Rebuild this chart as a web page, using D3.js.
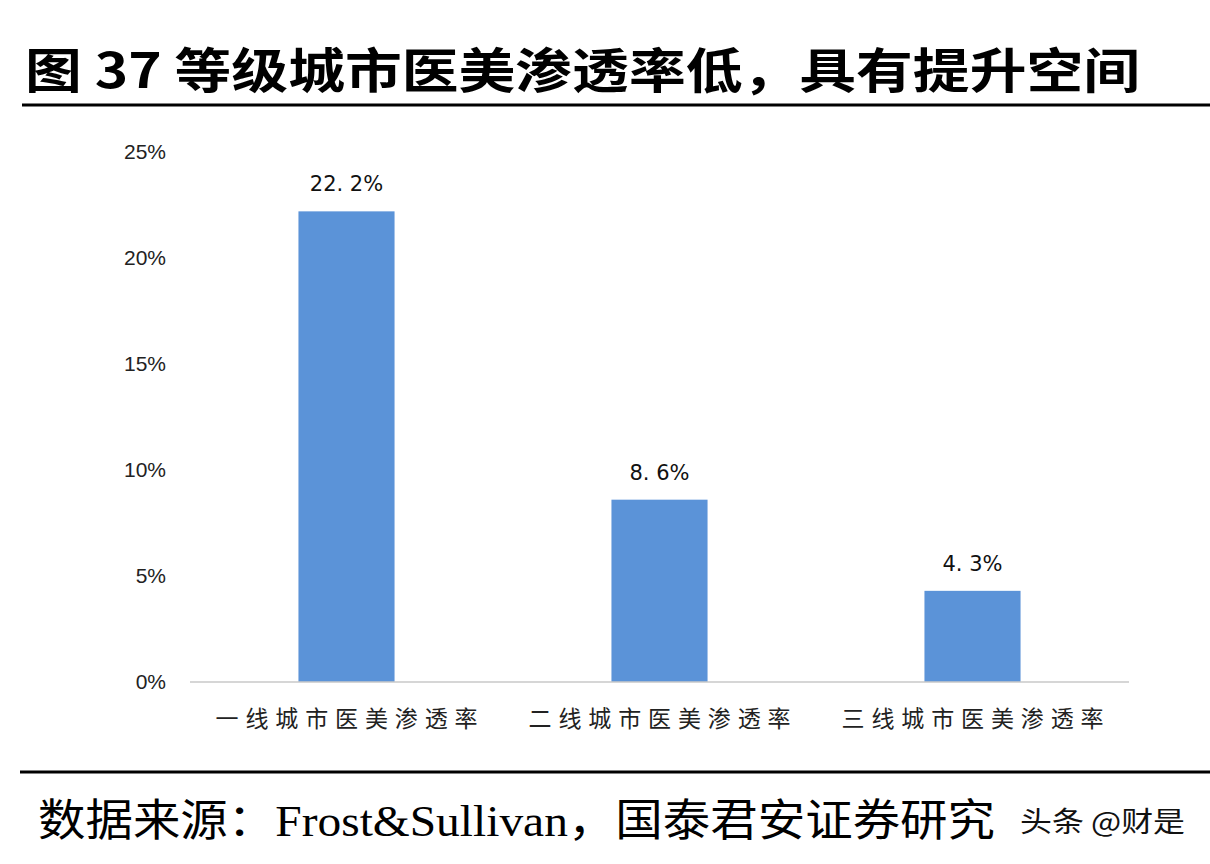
<!DOCTYPE html>
<html>
<head>
<meta charset="utf-8">
<script src="https://cdn.jsdelivr.net/npm/d3@7"></script>
<style>
  body { margin: 0; background: #fff; }
  svg { display: block; }
</style>
</head>
<body>
<svg width="1210" height="864"></svg>
<script>
var categories = ["一线城市医美渗透率", "二线城市医美渗透率", "三线城市医美渗透率"];
var values = [22.2, 8.6, 4.3];
var valueLabels = ["22. 2%", "8. 6%", "4. 3%"];
var yTicks = [0, 5, 10, 15, 20, 25];

var svg = d3.select("svg");

// title
svg.append("text")
    .attr("x", 25).attr("y", 88)
    .attr("textLength", 1115)
    .attr("lengthAdjust", "spacingAndGlyphs")
    .style("font-family", "'Noto Sans CJK SC', sans-serif")
    .style("font-weight", "bold")
    .style("font-size", "48px")
    .attr("fill", "#000")
    .text("图 37 等级城市医美渗透率低，具有提升空间");

svg.append("line")
    .attr("x1", 22).attr("x2", 1210)
    .attr("y1", 105).attr("y2", 105)
    .attr("stroke", "#000").attr("stroke-width", 3);

var x = d3.scaleBand()
    .domain(categories)
    .range([190, 1129])
    .paddingInner(0.693)
    .paddingOuter(0.3465);

var y = d3.scaleLinear()
    .domain([0, 25])
    .range([682, 152]);

// y tick labels
svg.append("g").selectAll("text")
    .data(yTicks)
    .enter().append("text")
    .attr("x", 166)
    .attr("y", function(d) { return y(d); })
    .attr("dy", "0.35em")
    .attr("text-anchor", "end")
    .style("font-family", "'Liberation Sans', Arial, sans-serif")
    .style("font-size", "21px")
    .attr("fill", "#222")
    .text(function(d) { return d + "%"; });

// bars
svg.append("g").selectAll("rect")
    .data(values)
    .enter().append("rect")
    .attr("x", function(d, i) { return x(categories[i]); })
    .attr("y", function(d) { return y(d); })
    .attr("width", x.bandwidth())
    .attr("height", function(d) { return y(0) - y(d); })
    .attr("fill", "#5b93d8");

// axis line
svg.append("line")
    .attr("x1", 190).attr("x2", 1129)
    .attr("y1", y(0)).attr("y2", y(0))
    .attr("stroke", "#c8c8c8").attr("stroke-width", 1.5);

// value labels
svg.append("g").selectAll("text")
    .data(values)
    .enter().append("text")
    .attr("x", function(d, i) { return x(categories[i]) + x.bandwidth() / 2; })
    .attr("y", function(d) { return y(d) - 20; })
    .attr("text-anchor", "middle")
    .style("font-family", "'DejaVu Sans', sans-serif")
    .style("font-size", "21px")
    .attr("fill", "#111")
    .text(function(d, i) { return valueLabels[i]; });

// category labels
svg.append("g").selectAll("text")
    .data(categories)
    .enter().append("text")
    .attr("x", function(d) { return x(d) + x.bandwidth() / 2; })
    .attr("y", 727)
    .attr("text-anchor", "middle")
    .attr("textLength", 262)
    .attr("lengthAdjust", "spacing")
    .style("font-family", "'Noto Sans CJK SC', sans-serif")
    .style("font-size", "23px")
    .attr("fill", "#222")
    .text(function(d) { return d; });

// footer
svg.append("line")
    .attr("x1", 20).attr("x2", 1210)
    .attr("y1", 772).attr("y2", 772)
    .attr("stroke", "#000").attr("stroke-width", 3);

var foot = svg.append("text")
    .attr("x", 38).attr("y", 836)
    .attr("textLength", 957)
    .attr("lengthAdjust", "spacingAndGlyphs")
    .style("font-size", "44px")
    .attr("fill", "#000");
foot.append("tspan")
    .style("font-family", "'Noto Sans CJK SC', sans-serif")
    .text("数据来源：");
foot.append("tspan")
    .style("font-family", "'Liberation Serif', serif")
    .text("Frost&Sullivan");
foot.append("tspan")
    .style("font-family", "'Noto Sans CJK SC', sans-serif")
    .text("，国泰君安证券研究");

svg.append("text")
    .attr("x", 1020).attr("y", 832)
    .attr("textLength", 165)
    .attr("lengthAdjust", "spacingAndGlyphs")
    .style("font-family", "'Noto Sans CJK SC', sans-serif")
    .style("font-size", "28px")
    .attr("fill", "#111")
    .text("头条 @财是");
</script>
</body>
</html>
